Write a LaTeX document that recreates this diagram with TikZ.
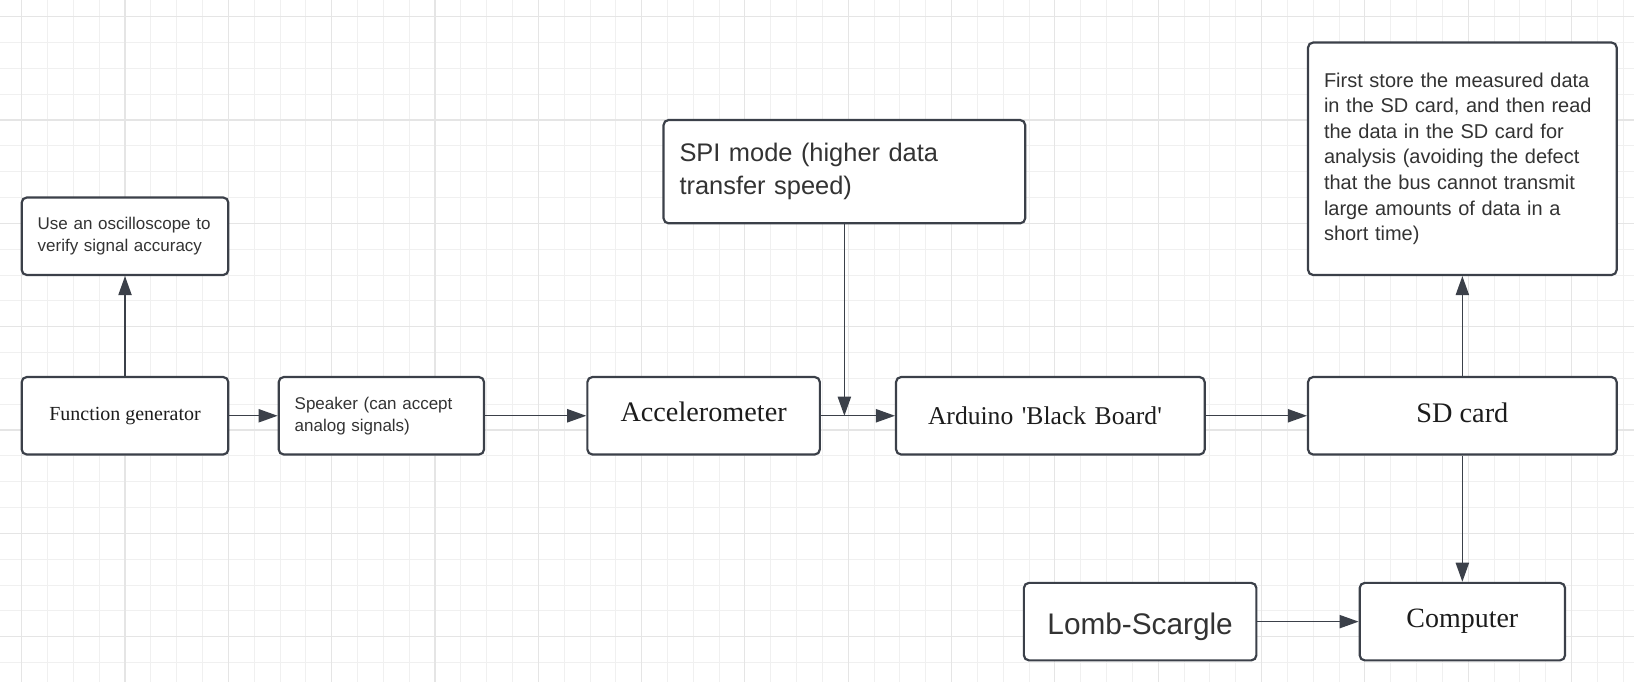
\documentclass[tikz,border=0pt]{standalone}
\usepackage{fontspec}
\setmainfont{Liberation Serif}
\setsansfont{Liberation Sans}
\usetikzlibrary{arrows.meta}
\definecolor{linecol}{HTML}{3B4049}
\definecolor{gridfine}{HTML}{F0F0F0}
\definecolor{gridbold}{HTML}{E5E5E5}
\definecolor{sanstext}{HTML}{333333}
\definecolor{seriftext}{HTML}{1C1C1C}

\begin{document}
\begin{tikzpicture}[x=0.5cm,y=0.5cm,
	minorgrid/.style={draw=gridfine,line width=0.5pt},
	majorgrid/.style={draw=gridbold,line width=0.6pt},
	box/.style={draw=linecol,line width=1.2pt,rounded corners=2.8pt,fill=white,minimum height=1.5cm},
	serifbox/.style={box,text=seriftext},
	sansbox/.style={box,text=sanstext,align=left,inner xsep=8.8pt},
	link/.style={draw=linecol,line width=0.75pt,-{Triangle[length=10.5pt,width=7.3pt]}}]
	\useasboundingbox (-0.84,0.6465) rectangle (62.42,-25.757);
	\fill[white] (-0.84,0.6465) rectangle (62.42,-25.757);
	\begin{scope}
		\clip (-0.84,0.6465) rectangle (62.42,-25.757);
		\draw[minorgrid,step=1] (-1,1) grid (63,-26);
		\draw[majorgrid,step=4] (-4,4) grid (64,-28);
	\end{scope}
	
	\node[sansbox,text width=96.2pt,font=\sffamily\fontsize{9.36}{11.95}\selectfont] (O) at (4,-8.5) {Use an oscilloscope to\\verify signal accuracy};
	\node[serifbox,minimum width=4cm,font=\fontsize{11}{13.2}\selectfont] (F) at (4,-15.45) {Function generator};
	\node[sansbox,text width=95.5pt,font=\sffamily\fontsize{9.36}{11.95}\selectfont] (S) at (13.925,-15.45) {Speaker (can accept\\analog signals)};
	\node[serifbox,minimum width=4.5cm,text depth=4.1pt,font=\fontsize{15.55}{18.7}\selectfont] (A) at (26.4,-15.45) {Accelerometer};
	\node[serifbox,align=left,inner xsep=17.6pt,text width=134.8pt,font=\fontsize{14.1}{16.9}\selectfont] (B) at (39.825,-15.45) {Arduino \textquotesingle Black Board\textquotesingle};
	\node[serifbox,minimum width=5.975cm,text depth=2.9pt,font=\fontsize{15.6}{18.7}\selectfont] (C) at (55.775,-15.45) {SD card};
	\node[sansbox,text width=181.6pt,minimum height=2cm,font=\sffamily\fontsize{14}{18}\selectfont] (P) at (31.85,-6) {SPI mode (higher data\\transfer speed)};
	\node[sansbox,text width=152.4pt,minimum height=4.5cm,font=\sffamily\fontsize{11}{14.1}\selectfont] (N) at (55.775,-5.5) {First store the measured data\\in the SD card, and then read\\the data in the SD card for\\analysis (avoiding the defect\\that the bus cannot transmit\\large amounts of data in a\\short time)};
	\node[box,minimum width=4.5cm,text=sanstext,text height=14pt,text depth=0pt,font=\sffamily\fontsize{16.4}{19.7}\selectfont] (L) at (43.3,-23.42) {Lomb-Scargle};
	\node[serifbox,minimum width=3.975cm,font=\fontsize{15.4}{18.5}\selectfont] (M) at (55.775,-23.42) {Computer};
	\coordinate (J) at (P.south |- A.east);
	
	\draw[link] (F) -- (O);
	\draw[link] (F) -- (S);
	\draw[link] (S) -- (A);
	\draw[link] (A) -- (B);
	\draw[link] (P) -- (J);
	\draw[link] (B) -- (C);
	\draw[link] (C) -- (N);
	\draw[link] (C) -- (M);
	\draw[link] (L) -- (M);
\end{tikzpicture}
\end{document}
